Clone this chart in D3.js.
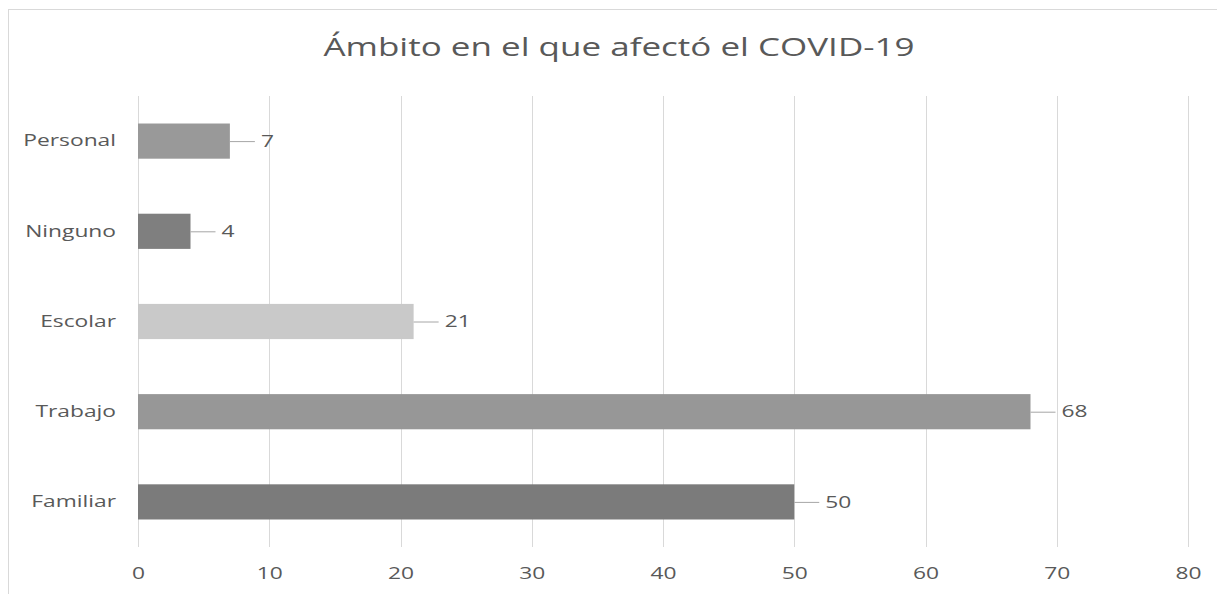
<!DOCTYPE html>
<html>
<head>
<meta charset="utf-8">
<title>Ámbito en el que afectó el COVID-19</title>
<script src="https://cdn.jsdelivr.net/npm/d3@7"></script>
<style>
  body { margin: 0; background: #fff; }
  svg text { font-family: "Open Sans", sans-serif; fill: #595959; }
  .axis path, .axis line { display: none; }
  .grid line { stroke: #d9d9d9; stroke-width: 1; shape-rendering: crispEdges; }
</style>
</head>
<body>
<svg id="chart"></svg>
<script>
var categories = ["Personal", "Ninguno", "Escolar", "Trabajo", "Familiar"];
var values = [7, 4, 21, 68, 50];
var colors = ["#999999", "#7f7f7f", "#c9c9c9", "#979797", "#7b7b7b"];
var xTicks = [0, 10, 20, 30, 40, 50, 60, 70, 80];

var W = 1217, H = 594;
var margin = {top: 96, right: 29, bottom: 47, left: 138};
var width = W - margin.left - margin.right,
    height = H - margin.top - margin.bottom;
var sx = 1.38; // the source picture is stretched sideways

var svg = d3.select("#chart").attr("width", W).attr("height", H);

// frame (right and bottom edges fall outside the picture)
svg.append("rect")
  .attr("x", 8.5).attr("y", 9.5)
  .attr("width", W + 10).attr("height", H + 10)
  .attr("fill", "none").attr("stroke", "#d9d9d9");

svg.append("text")
  .attr("transform", "translate(619,56) scale(1.4,1)")
  .attr("text-anchor", "middle")
  .style("font-size", "25px")
  .text("Ámbito en el que afectó el COVID-19");

var g = svg.append("g").attr("transform", "translate(" + margin.left + "," + margin.top + ")");

var x = d3.scaleLinear().domain([0, 80]).range([0, 1050]);
var y = d3.scaleBand().domain(categories).range([0, height]).paddingInner(0.61).paddingOuter(0.305);

g.append("g").attr("class", "grid")
  .selectAll("line").data(xTicks).enter().append("line")
  .attr("x1", function(d){ return Math.round(x(d)) + 0.5; })
  .attr("x2", function(d){ return Math.round(x(d)) + 0.5; })
  .attr("y1", 0).attr("y2", height);

var xAxis = d3.axisBottom(x).tickValues(xTicks).tickSize(0).tickPadding(20);
g.append("g").attr("class", "axis")
  .attr("transform", "translate(0," + height + ")")
  .call(xAxis)
  .selectAll("text")
    .style("font-size", "16.5px").attr("fill", "#595959")
    .attr("transform", "scale(" + sx + ",1)");

var yAxis = d3.axisLeft(y).tickSize(0).tickPadding(22);
g.append("g").attr("class", "axis")
  .call(yAxis)
  .selectAll("text")
    .style("font-size", "16.5px").attr("fill", "#595959")
    .attr("x", -22 / sx)
    .attr("transform", "scale(" + sx + ",1)");

var data = categories.map(function(c, i){ return {name: c, value: values[i], color: colors[i]}; });

g.selectAll(".bar").data(data).enter().append("rect")
  .attr("class", "bar")
  .attr("x", 0)
  .attr("y", function(d){ return y(d.name); })
  .attr("width", function(d){ return x(d.value); })
  .attr("height", y.bandwidth())
  .attr("fill", function(d){ return d.color; });

g.selectAll(".leader").data(data).enter().append("line")
  .attr("x1", function(d){ return x(d.value); })
  .attr("x2", function(d){ return x(d.value) + 25; })
  .attr("y1", function(d){ return y(d.name) + y.bandwidth() / 2 + 0.5; })
  .attr("y2", function(d){ return y(d.name) + y.bandwidth() / 2 + 0.5; })
  .attr("stroke", "#a6a6a6").attr("stroke-width", 1);

g.selectAll(".lbl").data(data).enter().append("text")
  .attr("transform", function(d){
    return "translate(" + (x(d.value) + 31) + "," + (y(d.name) + y.bandwidth() / 2) + ") scale(" + sx + ",1)";
  })
  .attr("dy", "0.35em")
  .style("font-size", "16.5px")
  .text(function(d){ return d.value; });
</script>
</body>
</html>
